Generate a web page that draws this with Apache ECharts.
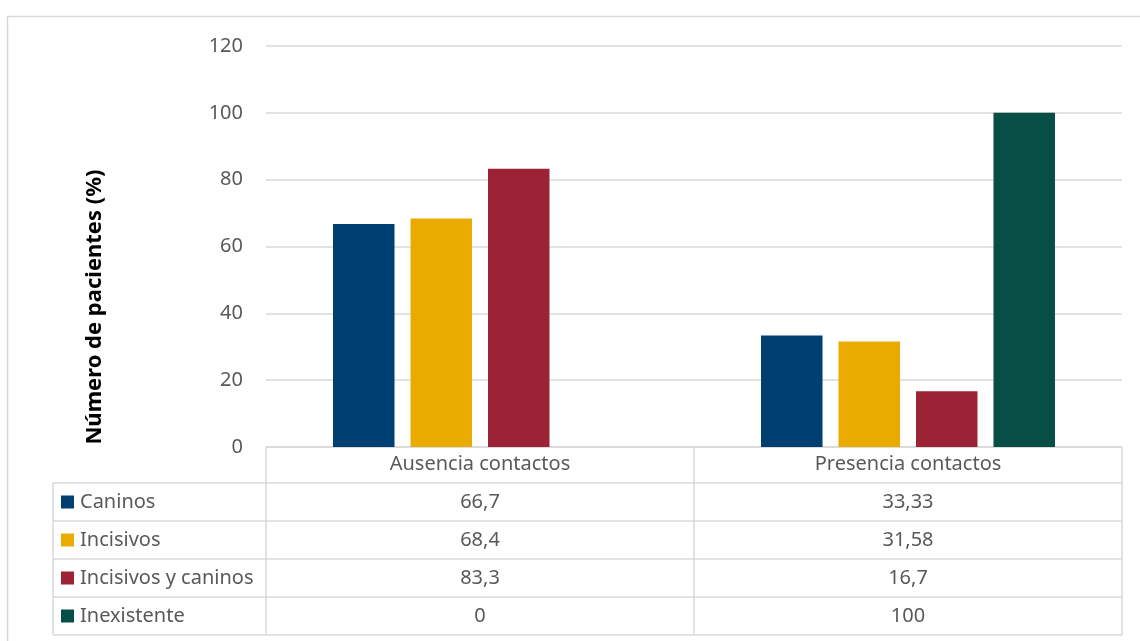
<!DOCTYPE html>
<html>
<head>
<meta charset="utf-8">
<script src="https://cdn.jsdelivr.net/npm/echarts@6/dist/echarts.min.js"></script>
<style>
  html, body { margin: 0; padding: 0; background: #ffffff; }
  #chart { width: 1140px; height: 641px; }
</style>
</head>
<body>
<div id="chart"></div>
<script>
// Categories and series values
const categories = ['Ausencia contactos', 'Presencia contactos'];
const seriesNames = ['Caninos', 'Incisivos', 'Incisivos y caninos', 'Inexistente'];
const caninos = [66.7, 33.33];
const incisivos = [68.4, 31.58];
const incisivosYCaninos = [83.3, 16.7];
const inexistente = [0, 100];
const yTicks = [0, 20, 40, 60, 80, 100, 120];
const yAxisTitle = 'Número de pacientes (%)';

const seriesValues = [caninos, incisivos, incisivosYCaninos, inexistente];
const colors = ['#003F72', '#EAAB00', '#9B2335', '#064E46'];

const FONT = '"Noto Sans", sans-serif';
const TEXT = '#595959';
const LINE = '#D9D9D9';
const FS = 20;

const grid = { left: 266, right: 18, top: 46, bottom: 194 };
const rowH = 38;
const headerH = 36;
const legendColLeft = 53;

const chart = echarts.init(document.getElementById('chart'), null, { renderer: 'canvas' });

const fmt = v => String(v).replace('.', ',');

chart.setOption({
  animation: false,
  backgroundColor: '#ffffff',
  grid: grid,
  xAxis: {
    type: 'category',
    data: categories,
    axisLine: { show: false },
    axisTick: { show: false },
    axisLabel: { color: TEXT, fontFamily: FONT, fontSize: FS, margin: 7 },
    splitLine: { show: false }
  },
  yAxis: {
    type: 'value',
    min: yTicks[0],
    max: yTicks[yTicks.length - 1],
    interval: yTicks[1] - yTicks[0],
    axisLine: { show: false },
    axisTick: { show: false },
    axisLabel: { color: TEXT, fontFamily: FONT, fontSize: FS, margin: 23 },
    splitLine: { lineStyle: { color: LINE, width: 1.5 } }
  },
  series: seriesNames.map((name, i) => ({
    name: name,
    type: 'bar',
    data: seriesValues[i],
    barWidth: 61.5,
    barGap: '26%',
    itemStyle: { color: colors[i] }
  }))
});

// Data table drawn beneath the plot, aligned to the category axis
const x0 = grid.left;
const x2 = 1140 - grid.right;
const x1 = (chart.convertToPixel({ xAxisIndex: 0 }, categories[0]) + chart.convertToPixel({ xAxisIndex: 0 }, categories[1])) / 2;
const yBase = chart.convertToPixel({ yAxisIndex: 0 }, 0);
const yHeadBottom = yBase + headerH;
const yEnd = yHeadBottom + rowH * seriesNames.length;

const graphics = [];
const line = (xa, ya, xb, yb) => graphics.push({
  type: 'line', silent: true,
  shape: { x1: xa, y1: ya, x2: xb, y2: yb },
  style: { stroke: LINE, lineWidth: 1.5 }
});

// Outer chart frame
graphics.push({
  type: 'rect', silent: true,
  shape: { x: 7.5, y: 16.5, width: 1200, height: 700 },
  style: { fill: null, stroke: LINE, lineWidth: 1.5 }
});

line(x0, yBase, x2, yBase);
for (let r = 0; r <= seriesNames.length; r++) {
  const y = yHeadBottom + r * rowH;
  line(legendColLeft, y, x2, y);
}
line(x0, yBase, x0, yEnd);
line(x1, yBase, x1, yEnd);
line(x2, yBase, x2, yEnd);
line(legendColLeft, yHeadBottom, legendColLeft, yEnd);

seriesNames.forEach((name, r) => {
  const cy = yHeadBottom + r * rowH + rowH / 2;
  graphics.push({
    type: 'rect', silent: true,
    shape: { x: 61, y: cy - 6.5, width: 13, height: 13 },
    style: { fill: colors[r] }
  });
  graphics.push({
    type: 'text', silent: true,
    style: { x: 80, y: cy, text: name, fill: TEXT, font: FS + 'px ' + FONT, textAlign: 'left', textVerticalAlign: 'middle' }
  });
  categories.forEach((cat, c) => {
    const cx = chart.convertToPixel({ xAxisIndex: 0 }, cat);
    graphics.push({
      type: 'text', silent: true,
      style: { x: cx, y: cy, text: fmt(seriesValues[r][c]), fill: TEXT, font: FS + 'px ' + FONT, textAlign: 'center', textVerticalAlign: 'middle' }
    });
  });
});

// Vertical axis title
graphics.push({
  type: 'text', silent: true,
  x: 95, y: 307, rotation: Math.PI / 2,
  style: { x: 0, y: 0, text: yAxisTitle, fill: '#000000', font: 'bold 22px ' + FONT, textAlign: 'center', textVerticalAlign: 'middle' }
});

chart.setOption({ graphic: graphics });
</script>
</body>
</html>
